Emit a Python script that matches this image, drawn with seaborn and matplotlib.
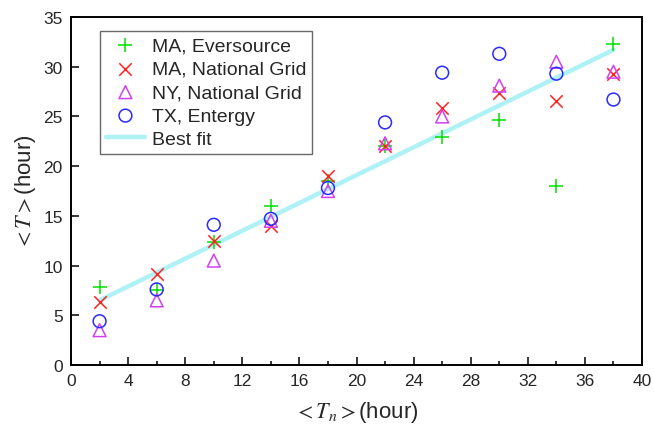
import matplotlib
matplotlib.use("Agg")
import numpy as np
import pandas as pd
import matplotlib.pyplot as plt
import seaborn as sns
from matplotlib.ticker import MultipleLocator

# Data
tn = [2, 6, 10, 14, 18, 22, 26, 30, 34, 38]
ma_eversource = [7.8, 7.5, 12.4, 16.0, 18.5, 22.0, 22.9, 24.6, 18.0, 32.3]
ma_national_grid = [6.3, 9.2, 12.5, 14.0, 19.0, 22.0, 25.8, 27.4, 26.6, 29.3]
ny_national_grid = [3.5, 6.5, 10.5, 14.5, 17.5, 22.3, 25.0, 28.1, 30.5, 29.5]
tx_entergy = [4.4, 7.6, 14.1, 14.7, 17.8, 24.4, 29.4, 31.3, 29.3, 26.7]

# best fit line
fit_x = [2, 38]
fit_y = [6.5, 31.7]

sns.set_style("ticks")
plt.rcParams['font.family'] = ['Liberation Sans', 'DejaVu Sans']
plt.rcParams['mathtext.fontset'] = 'stix'

fig = plt.figure(figsize=(6.54, 4.27), dpi=100)
ax = fig.add_axes([0.1086, 0.1429, 0.8731, 0.8149])

sns.lineplot(x=fit_x, y=fit_y, ax=ax, color='#aef2f6', linewidth=3.2,
             label='Best fit', zorder=1)

series = [
    ("MA, Eversource", ma_eversource, '+', '#00e000', 110),
    ("MA, National Grid", ma_national_grid, 'x', '#ff2020', 80),
    ("NY, National Grid", ny_national_grid, '^', '#d040f0', 85),
    ("TX, Entergy", tx_entergy, 'o', '#2a2aff', 85),
]
for name, vals, mk, col, sz in series:
    df = pd.DataFrame({'x': tn, 'y': vals})
    if mk in ('+', 'x'):
        sns.scatterplot(data=df, x='x', y='y', ax=ax, marker=mk, color=col,
                        edgecolor=col, s=sz, linewidth=1.1, label=name, zorder=3)
    else:
        sns.scatterplot(data=df, x='x', y='y', ax=ax, marker=mk, color=col,
                        facecolors='none', edgecolor=col, s=sz, linewidth=1.1,
                        label=name, zorder=3)

ax.set_xlim(0, 40)
ax.set_ylim(0, 35)
ax.xaxis.set_major_locator(MultipleLocator(4))
ax.xaxis.set_minor_locator(MultipleLocator(2))
ax.yaxis.set_major_locator(MultipleLocator(5))
ax.tick_params(which='major', direction='in', length=6, width=1.3, labelsize=12.5,
               top=False, right=False, pad=6)
ax.tick_params(which='minor', direction='in', length=3, width=1.3, top=False, right=False)
for sp in ax.spines.values():
    sp.set_visible(True)
    sp.set_linewidth(1.4)
    sp.set_color('black')

ax.set_xlabel(r'$<T_n>$(hour)', fontsize=16, labelpad=8)
ax.set_ylabel(r'$<T>$(hour)', fontsize=16, labelpad=4)

# legend order: markers first, then the fit line
h, l = ax.get_legend_handles_labels()
order = [l.index(n) for n in ["MA, Eversource", "MA, National Grid",
                              "NY, National Grid", "TX, Entergy", "Best fit"]]
leg = ax.legend([h[i] for i in order], [l[i] for i in order],
                loc='upper left', bbox_to_anchor=(0.051, 0.96), borderaxespad=0,
                fontsize=14, frameon=True, fancybox=False, edgecolor='#444444',
                handlelength=2.0, handletextpad=0.35, labelspacing=0.3,
                borderpad=0.3)
leg.get_frame().set_linewidth(1.0)

fig.savefig("out.png", dpi=100)
